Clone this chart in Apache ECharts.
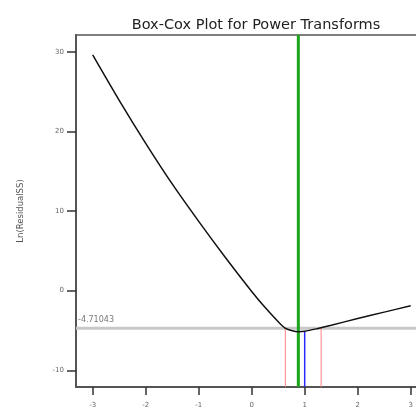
<!DOCTYPE html>
<html><head><meta charset="utf-8">
<script src="https://cdn.jsdelivr.net/npm/echarts@6/dist/echarts.min.js"></script>
<style>html,body{margin:0;padding:0;background:#fff}#c{width:416px;height:409px}</style>
</head><body><div id="c"></div>
<script>
const lambdas = [-3, -2.5, -2, -1.5, -1, -0.5, 0, 0.25, 0.5, 0.63, 0.75, 0.88, 1.0, 1.25, 1.5, 2, 2.5, 3];
const lnResidualSS = [29.6, 23.9, 18.5, 13.4, 8.7, 4.2, -0.1, -2.1, -3.9, -4.7, -5.0, -5.15, -5.1, -4.75, -4.35, -3.5, -2.7, -1.9];
const xTicks = [-3, -2, -1, 0, 1, 2, 3];
const yTicks = [-10, 0, 10, 20, 30];
const bestLambda = 0.88;
const currentLambda = 1.0;
const currentValue = -5.1;
const ciLow = 0.634;
const ciHigh = 1.31;
const threshold = -4.71043;
const xMin = -3.315, xMax = 3.1, yMin = -12.1, yMax = 32.1;

const curve = lambdas.map((l, i) => [l, lnResidualSS[i]]);
const vline = (x, y0, y1) => [[x, y0], [x, y1]];

const chart = echarts.init(document.getElementById('c'));
chart.setOption({
  animation: false,
  title: {
    text: 'Box-Cox Plot for Power Transforms',
    left: 251, top: 13, textAlign: 'center',
    textStyle: {fontFamily: 'DejaVu Sans', fontSize: 14.5, fontWeight: 'normal', color: '#222'}
  },
  grid: {left: 76, right: 0, top: 35, bottom: 22, show: false},
  xAxis: [{
    type: 'value', min: xMin, max: xMax,
    axisLine: {show: true, onZero: false, lineStyle: {color: '#555', width: 2}},
    axisTick: {show: true, customValues: xTicks, length: 8, lineStyle: {color: '#333', width: 1.5}},
    axisLabel: {customValues: xTicks, fontSize: 7, color: '#666', margin: 15, fontFamily: 'DejaVu Sans'},
    splitLine: {show: false}
  }, {
    type: 'value', min: xMin, max: xMax, position: 'top',
    axisLine: {show: true, onZero: false, lineStyle: {color: '#555', width: 1.5}},
    axisTick: {show: false}, axisLabel: {show: false}, splitLine: {show: false}
  }],
  yAxis: {
    type: 'value', min: yMin, max: yMax,
    name: 'Ln(ResidualSS)', nameLocation: 'middle', nameGap: 51, nameRotate: 90,
    nameTextStyle: {fontSize: 8.5, color: '#555', fontFamily: 'DejaVu Sans'},
    axisLine: {show: true, onZero: false, lineStyle: {color: '#555', width: 2}},
    axisTick: {show: true, customValues: yTicks, length: 9, lineStyle: {color: '#333', width: 1.5}},
    axisLabel: {customValues: yTicks, fontSize: 7, color: '#666', margin: 12, fontFamily: 'DejaVu Sans'},
    splitLine: {show: false}
  },
  series: [
    {type: 'line', data: [[xMin, threshold], [xMax, threshold]], symbol: 'none', lineStyle: {color: '#c8c8c8', width: 3}, z: 1},
    {type: 'line', data: vline(ciLow, yMin, threshold), symbol: 'none', lineStyle: {color: '#ff8080', width: 1}, z: 2},
    {type: 'line', data: vline(ciHigh, yMin, threshold), symbol: 'none', lineStyle: {color: '#ff8080', width: 1}, z: 2},
    {type: 'line', data: vline(bestLambda, yMin, yMax), symbol: 'none', lineStyle: {color: '#1aa51a', width: 3}, z: 3},
    {type: 'line', data: vline(currentLambda, yMin, currentValue), symbol: 'none', lineStyle: {color: '#2a2aff', width: 1.5}, z: 3},
    {type: 'line', data: curve, smooth: 0.3, symbol: 'none', lineStyle: {color: '#111', width: 1.5}, z: 4},
    {type: 'scatter', data: [[xMin, threshold]], symbolSize: 0, silent: true,
     label: {show: true, formatter: String(threshold), position: [2, -12], fontSize: 8, color: '#555', fontFamily: 'DejaVu Sans'}}
  ]
});
</script></body></html>
